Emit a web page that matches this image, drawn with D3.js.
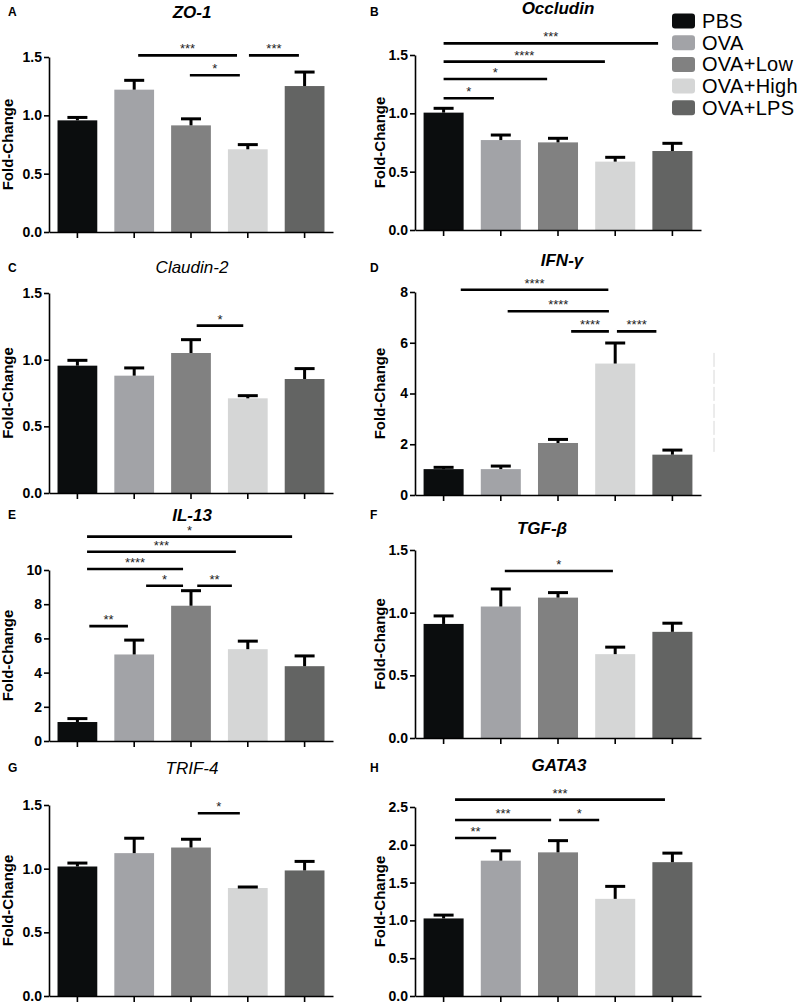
<!DOCTYPE html>
<html>
<head>
<meta charset="utf-8">
<script src="https://cdn.jsdelivr.net/npm/d3@7"></script>
<style>
  body { margin: 0; background: #fff; }
  svg { display: block; font-family: Arial, "Liberation Sans", sans-serif; }
</style>
</head>
<body>
<div id="chart"></div>
<script>
// groups and their bar colours
var groups = ["PBS", "OVA", "OVA+Low", "OVA+High", "OVA+LPS"];
var groupColors = ["#0b0d0e", "#a2a3a7", "#818181", "#d5d6d6", "#636463"];

var panelLetters = ["A", "B", "C", "D", "E", "F", "G", "H"];
var genes = ["ZO-1", "Occludin", "Claudin-2", "IFN-γ", "IL-13", "TGF-β", "TRIF-4", "GATA3"];

// mean fold-change and SEM per group
var zo1Mean = [0.957, 1.22, 0.914, 0.709, 1.251];
var zo1Sem = [0.025, 0.08, 0.056, 0.04, 0.12];
var occludinMean = [1.006, 0.771, 0.751, 0.586, 0.677];
var occludinSem = [0.037, 0.043, 0.035, 0.037, 0.066];
var claudinMean = [0.955, 0.88, 1.05, 0.71, 0.855];
var claudinSem = [0.04, 0.058, 0.1, 0.02, 0.078];
var ifngMean = [1.02, 1.02, 2.05, 5.18, 1.59];
var ifngSem = [0.07, 0.12, 0.14, 0.81, 0.18];
var il13Mean = [1.11, 5.06, 7.91, 5.37, 4.375];
var il13Sem = [0.2, 0.84, 0.88, 0.47, 0.6];
var tgfbMean = [0.91, 1.049, 1.12, 0.669, 0.847];
var tgfbSem = [0.064, 0.14, 0.04, 0.056, 0.069];
var trifMean = [1.017, 1.122, 1.166, 0.848, 0.986];
var trifSem = [0.027, 0.117, 0.065, 0.008, 0.071];
var gata3Mean = [1.026, 1.79, 1.90, 1.285, 1.77];
var gata3Sem = [0.044, 0.13, 0.155, 0.165, 0.12];

// significance brackets: [from position, to position, height, stars]
// positions are in group-index units (0 = PBS centre)
var zo1Sig = [[1.07, 2.81, 1.514, "***"], [1.98, 2.86, 1.343, "*"], [3.02, 3.90, 1.514, "***"]];
var occludinSig = [[0.0, 3.75, 1.6, "***"], [0.0, 2.82, 1.443, "****"], [0.0, 1.81, 1.294, "*"], [0.0, 0.88, 1.129, "*"]];
var claudinSig = [[2.1, 2.92, 1.255, "*"]];
var ifngSig = [[0.3, 2.88, 8.09, "****"], [1.12, 2.89, 7.24, "****"], [2.23, 2.89, 6.45, "****"], [3.03, 3.72, 6.45, "****"]];
var il13Sig = [[0.17, 3.78, 11.95, "*"], [0.17, 2.79, 11.07, "***"], [0.17, 1.86, 10.06, "****"],
               [1.21, 1.86, 9.08, "*"], [2.11, 2.72, 9.08, "**"], [0.21, 0.89, 6.72, "**"]];
var tgfbSig = [[1.07, 2.96, 1.333, "*"]];
var trifSig = [[2.12, 2.86, 1.435, "*"]];
var gata3Sig = [[0.2, 3.87, 2.597, "***"], [0.2, 1.88, 2.328, "***"], [2.02, 2.72, 2.328, "*"], [0.2, 0.92, 2.09, "**"]];

// y-axis tick values
var ticks15 = [0, 0.5, 1.0, 1.5];
var ticksIfng = [0, 2, 4, 6, 8];
var ticksIl13 = [0, 2, 4, 6, 8, 10];
var ticksGata3 = [0, 0.5, 1.0, 1.5, 2.0, 2.5];

var width = 798, height = 1003;

var svg = d3.select("#chart").append("svg")
    .attr("width", width)
    .attr("height", height);

// panel frames (pixels)
var L = { x0: 49, x1: 333, ylab: 13, letterX: 8 };
var R = { x0: 415, x1: 701, ylab: 385, letterX: 370 };

var panels = [
    { col: L, yTop: 57, yBot: 232, titleX: 192, titleY: 12, letterY: 12, bold: true,
      mean: zo1Mean, sem: zo1Sem, sig: zo1Sig, ticks: ticks15, fmt: ".1f" },
    { col: R, yTop: 55, yBot: 230, titleX: 558, titleY: 8, letterY: 12, bold: true,
      mean: occludinMean, sem: occludinSem, sig: occludinSig, ticks: ticks15, fmt: ".1f" },
    { col: L, yTop: 293, yBot: 493, titleX: 192, titleY: 267, letterY: 268, bold: false,
      mean: claudinMean, sem: claudinSem, sig: claudinSig, ticks: ticks15, fmt: ".1f" },
    { col: R, yTop: 292, yBot: 495, titleX: 562, titleY: 260, letterY: 268, bold: true,
      mean: ifngMean, sem: ifngSem, sig: ifngSig, ticks: ticksIfng, fmt: "d", stray: [5.6, 1.7] },
    { col: L, yTop: 570, yBot: 741, titleX: 192, titleY: 515, letterY: 515, bold: true,
      mean: il13Mean, sem: il13Sem, sig: il13Sig, ticks: ticksIl13, fmt: "d" },
    { col: R, yTop: 550, yBot: 738, titleX: 542, titleY: 528, letterY: 515, bold: true,
      mean: tgfbMean, sem: tgfbSem, sig: tgfbSig, ticks: ticks15, fmt: ".1f" },
    { col: L, yTop: 805, yBot: 996, titleX: 192, titleY: 768, letterY: 768, bold: false,
      mean: trifMean, sem: trifSem, sig: trifSig, ticks: ticks15, fmt: ".1f" },
    { col: R, yTop: 807, yBot: 996, titleX: 559, titleY: 765, letterY: 768, bold: true,
      mean: gata3Mean, sem: gata3Sem, sig: gata3Sig, ticks: ticksGata3, fmt: ".1f" }
];

panels.forEach(function (p, i) {
    drawPanel(p, i);
});

function drawPanel(p, i)
{
    var g = svg.append("g");
    var maxTick = p.ticks[p.ticks.length - 1];

    var x = d3.scaleBand()
        .domain(groups)
        .range([p.col.x0, p.col.x1])
        .paddingInner(0.3)
        .paddingOuter(0.15);

    // group index -> centre pixel, for the brackets
    var xi = d3.scaleLinear()
        .domain([0, 4])
        .range([x(groups[0]) + x.bandwidth() / 2, x(groups[4]) + x.bandwidth() / 2]);

    var y = d3.scaleLinear()
        .domain([0, maxTick])
        .range([p.yBot, p.yTop]);

    // bars
    g.selectAll("rect.bar").data(p.mean)
      .enter().append("rect")
        .attr("class", "bar")
        .attr("x", function (d, j) { return x(groups[j]); })
        .attr("width", x.bandwidth())
        .attr("y", function (d) { return y(d); })
        .attr("height", function (d) { return y(0) - y(d); })
        .attr("fill", function (d, j) { return groupColors[j]; });

    // upper error bars
    var capW = 20;
    var err = g.selectAll("g.err").data(p.mean)
      .enter().append("g")
        .attr("class", "err")
        .attr("stroke", "#000")
        .attr("stroke-width", 3);
    err.append("line")
        .attr("x1", function (d, j) { return x(groups[j]) + x.bandwidth() / 2; })
        .attr("x2", function (d, j) { return x(groups[j]) + x.bandwidth() / 2; })
        .attr("y1", function (d) { return y(d); })
        .attr("y2", function (d, j) { return y(d + p.sem[j]); });
    err.append("line")
        .attr("x1", function (d, j) { return x(groups[j]) + x.bandwidth() / 2 - capW / 2; })
        .attr("x2", function (d, j) { return x(groups[j]) + x.bandwidth() / 2 + capW / 2; })
        .attr("y1", function (d, j) { return y(d + p.sem[j]); })
        .attr("y2", function (d, j) { return y(d + p.sem[j]); });

    // axes
    var yAxis = d3.axisLeft(y)
        .tickValues(p.ticks)
        .tickFormat(d3.format(p.fmt))
        .tickSize(5)
        .tickSizeOuter(0)
        .tickPadding(2);
    var ya = g.append("g")
        .attr("transform", "translate(" + p.col.x0 + ",0)")
        .call(yAxis);

    var xAxis = d3.axisBottom(x)
        .tickSize(6)
        .tickSizeOuter(0)
        .tickFormat("");
    var xa = g.append("g")
        .attr("transform", "translate(0," + p.yBot + ")")
        .call(xAxis);

    [ya, xa].forEach(function (a) {
        a.selectAll("path, line").attr("stroke", "#000").attr("stroke-width", 1.6);
        a.selectAll("text")
            .attr("fill", "#000")
            .style("font-size", "14px")
            .style("font-weight", "bold");
    });

    // significance brackets
    var sig = g.selectAll("g.sig").data(p.sig)
      .enter().append("g")
        .attr("class", "sig");
    sig.append("line")
        .attr("x1", function (d) { return xi(d[0]); })
        .attr("x2", function (d) { return xi(d[1]); })
        .attr("y1", function (d) { return y(d[2]); })
        .attr("y2", function (d) { return y(d[2]); })
        .attr("stroke", "#000")
        .attr("stroke-width", 2.6);
    sig.append("text")
        .attr("x", function (d) { return (xi(d[0]) + xi(d[1])) / 2; })
        .attr("y", function (d) { return y(d[2]) - 2; })
        .attr("text-anchor", "middle")
        .style("font-size", "13px")
        .attr("fill", "#222")
        .text(function (d) { return d[3]; });

    // faint stray mark next to the IFN-γ panel
    if (p.stray) {
        g.append("line")
            .attr("x1", p.col.x1 + 13).attr("x2", p.col.x1 + 13)
            .attr("y1", y(p.stray[0])).attr("y2", y(p.stray[1]))
            .attr("stroke", "#d8d8d8")
            .attr("stroke-width", 1)
            .attr("stroke-dasharray", "14,3");
    }

    // title, letter, y label
    g.append("text")
        .attr("x", p.titleX)
        .attr("y", p.titleY)
        .attr("dy", "0.35em")
        .attr("text-anchor", "middle")
        .style("font-size", "17px")
        .style("font-style", "italic")
        .style("font-weight", p.bold ? "bold" : "normal")
        .text(genes[i]);

    g.append("text")
        .attr("x", p.col.letterX)
        .attr("y", p.letterY)
        .attr("dy", "0.35em")
        .style("font-size", "12px")
        .style("font-weight", "bold")
        .text(panelLetters[i]);

    g.append("text")
        .attr("transform", "translate(" + p.col.ylab + "," + ((p.yTop + p.yBot) / 2) + ") rotate(-90)")
        .attr("text-anchor", "middle")
        .style("font-size", "15px")
        .style("font-weight", "bold")
        .text("Fold-Change");
}

// legend
var legend = svg.append("g")
    .selectAll("g").data(groups)
  .enter().append("g")
    .attr("transform", function (d, j) { return "translate(672," + (21 + j * 21.7) + ")"; });
legend.append("rect")
    .attr("x", 0)
    .attr("y", -7.5)
    .attr("width", 23)
    .attr("height", 15)
    .attr("rx", 3)
    .attr("fill", function (d, j) { return groupColors[j]; });
legend.append("text")
    .attr("x", 30)
    .attr("dy", "0.35em")
    .style("font-size", "20px")
    .style("letter-spacing", "0.3px")
    .text(function (d) { return d; });
</script>
</body>
</html>
